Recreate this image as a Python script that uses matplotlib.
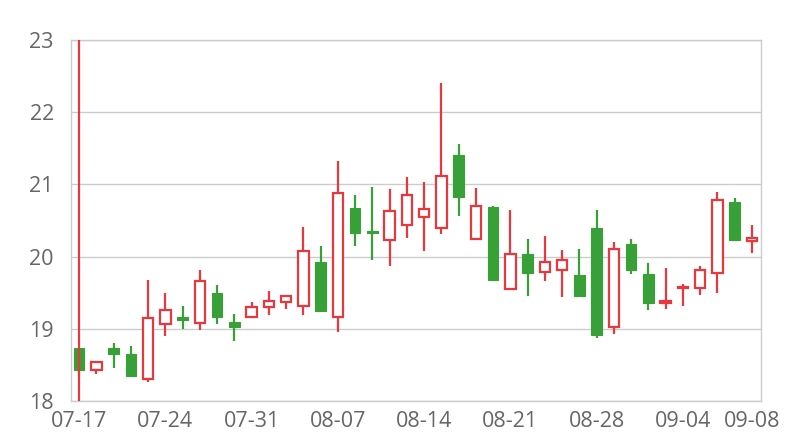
import matplotlib
matplotlib.use("Agg")
import matplotlib.pyplot as plt
import numpy as np

dates = ["07-17","07-18","07-19","07-20","07-21","07-24","07-25","07-26","07-27","07-28",
         "07-31","08-01","08-02","08-03","08-04","08-07","08-08","08-09","08-10","08-11",
         "08-14","08-15","08-16","08-17","08-18","08-21","08-22","08-23","08-24","08-25",
         "08-28","08-29","08-30","08-31","09-01","09-04","09-05","09-06","09-07","09-08"]
opens  = [18.74,18.43,18.74,18.65,18.30,19.07,19.17,19.08,19.50,19.10,
          19.16,19.30,19.37,19.31,19.93,19.16,20.67,20.35,20.23,20.44,
          20.55,20.40,21.41,20.25,20.69,19.55,20.04,19.78,19.82,19.75,
          20.39,19.03,20.18,19.76,19.36,19.57,19.56,19.77,20.76,20.21]
closes = [18.43,18.54,18.65,18.34,19.15,19.26,19.12,19.66,19.16,19.03,
          19.30,19.38,19.45,20.08,19.24,20.88,20.33,20.33,20.63,20.85,
          20.66,21.12,20.83,20.70,19.68,20.04,19.77,19.93,19.95,19.45,
          18.92,20.10,19.81,19.36,19.38,19.58,19.82,20.78,20.23,20.26]
highs  = [18.74,18.56,18.80,18.76,19.68,19.49,19.31,19.81,19.60,19.21,
          19.37,19.52,19.47,20.41,20.15,21.32,20.85,20.97,20.94,21.10,
          21.03,22.40,21.56,20.95,20.70,20.65,20.25,20.29,20.09,20.10,
          20.65,20.20,20.25,19.91,19.84,19.62,19.87,20.90,20.81,20.44]
lows   = [18.35,18.37,18.46,18.33,18.26,18.90,19.00,18.99,19.07,18.83,
          19.15,19.19,19.27,19.19,19.24,18.95,20.15,19.95,19.87,20.26,
          20.08,20.31,20.56,20.25,19.68,19.55,19.45,19.66,19.44,19.45,
          18.87,18.93,19.76,19.26,19.28,19.31,19.47,19.50,20.21,20.05]
marker_dates = ["07-17"]
label_dates = ["07-17","07-24","07-31","08-07","08-14","08-21","08-28","09-04","09-08"]
y_ticks = [18, 19, 20, 21, 22, 23]

RED = "#e8383d"
GREEN = "#37a037"
TXT = "#666666"
GRID = "#cccccc"

plt.rcParams['font.family'] = ['Open Sans', 'DejaVu Sans']

fig = plt.figure(figsize=(8, 4.4), dpi=100)
ax = fig.add_axes([70.5/800, 1-401/440, 690/800, 361/440])

x = np.arange(len(dates))
o = np.array(opens); c = np.array(closes); h = np.array(highs); l = np.array(lows)
up = c >= o
colors = np.where(up, RED, GREEN)

ax.vlines(x, l, h, colors=colors, linewidth=1.6, zorder=3)
bottoms = np.minimum(o, c)
heights = np.maximum(np.abs(c - o), 0.015)
width = 0.62
ax.bar(x[up], heights[up], bottom=bottoms[up], width=width, facecolor="white",
       edgecolor=RED, linewidth=1.6, zorder=4)
ax.bar(x[~up], heights[~up], bottom=bottoms[~up], width=width, facecolor=GREEN,
       edgecolor=GREEN, linewidth=0.8, zorder=4)

for d in marker_dates:
    ax.axvline(dates.index(d), color=RED, linewidth=1.6, zorder=5)

ax.set_xlim(-0.5, len(dates) - 0.5)
ax.set_ylim(18, 23)
ax.set_yticks(y_ticks)
ax.set_yticklabels([str(v) for v in y_ticks])
ax.set_xticks([dates.index(d) for d in label_dates])
ax.set_xticklabels(label_dates)
ax.tick_params(axis='both', length=0, labelsize=15.5, colors=TXT)
ax.tick_params(axis='y', pad=12)
ax.tick_params(axis='x', pad=7)
ax.yaxis.grid(True, color=GRID, linewidth=1)
ax.set_axisbelow(True)
for s in ax.spines.values():
    s.set_color(GRID)
    s.set_linewidth(1)

fig.savefig("out.png", dpi=100)
